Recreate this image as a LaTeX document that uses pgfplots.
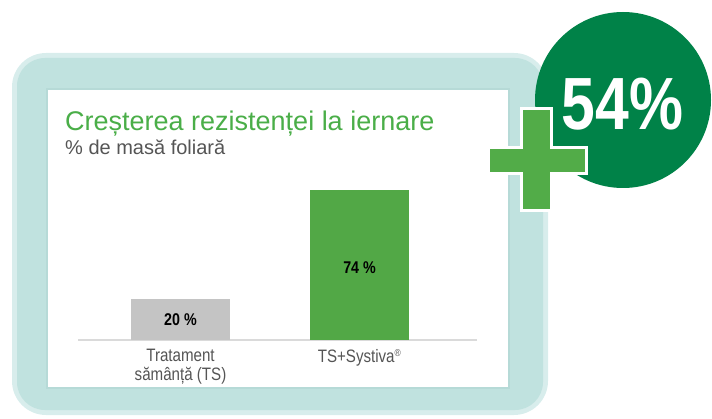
\documentclass[border=0pt]{standalone}
\usepackage{fontspec}
\setmainfont{Liberation Sans}
\newfontfamily\condfont[FakeStretch=0.84]{Liberation Sans}
\newfontfamily\bigfont[FakeStretch=0.82]{Liberation Sans}
\usepackage{pgfplots}
\pgfplotsset{compat=1.18}

\definecolor{framelight}{RGB}{216,237,236}
\definecolor{framemid}{RGB}{192,226,223}
\definecolor{framedark}{RGB}{182,218,215}
\definecolor{titlegreen}{RGB}{74,174,72}
\definecolor{subgray}{RGB}{85,85,85}
\definecolor{labelgray}{RGB}{85,85,85}
\definecolor{axisgray}{RGB}{218,218,218}
\definecolor{bargray}{RGB}{196,196,196}
\definecolor{bargreen}{RGB}{82,168,70}
\definecolor{circlegreen}{RGB}{0,130,72}
\definecolor{plusgreen}{RGB}{82,172,72}

\begin{document}
\begin{tikzpicture}[x=1pt,y=1pt]
\useasboundingbox (0,0) rectangle (712,418);
\clip (0,0) rectangle (712,418);

% tray frame
\fill[framelight, rounded corners=34pt] (12,3) rectangle (548,365);
\fill[framemid, rounded corners=28pt] (17,8) rectangle (543,360);
\fill[framedark] (46,29) rectangle (510,330);
\fill[white] (48,31) rectangle (508,328);

\begin{axis}[
  at={(78pt,78pt)}, anchor=south west,
  scale only axis, width=399pt, height=162.2pt,
  xmin=-0.5726, xmax=1.656, ymin=0, ymax=80,
  axis y line=none, axis x line*=bottom,
  axis line style={-, draw=axisgray, line width=1.5pt},
  ytick=\empty, xtick={0,1},
  xticklabels={{Tratament\\sămânță (TS)},{TS+Systiva\textsuperscript{\fontsize{10}{10}\selectfont ®}}},
  xtick style={draw=none}, major tick length=0pt,
  xticklabel style={align=center, anchor=north, inner sep=0pt, yshift=-9pt,
    font=\condfont\fontsize{18}{19}\selectfont, text=labelgray},
  ybar, bar width=99pt, bar shift=0pt, clip=false,
]
\addplot[fill=bargray, draw=none] coordinates {(0,20)};
\addplot[fill=bargreen, draw=none] coordinates {(1,74)};
\addplot[sharp plot, draw=none, mark=none, nodes near coords,
  point meta=explicit symbolic,
  every node near coord/.append style={anchor=center, text=black,
    font=\condfont\bfseries\fontsize{17}{18}\selectfont}]
  coordinates {(0,9.9) [20 \%] (1,35.5) [74 \%]};
\end{axis}

% titles
\node[anchor=base west, inner sep=0pt, text=titlegreen,
  font=\fontsize{27}{32}\selectfont] at (65,287.3) {Creșterea rezistenței la iernare};
\node[anchor=base west, inner sep=0pt, text=subgray,
  font=\fontsize{20}{24}\selectfont] at (65,263) {\% de masă foliară};

% badge
\fill[circlegreen] (623,318) circle (88);
\node[anchor=base, inner sep=0pt, text=white,
  font=\bigfont\bfseries\fontsize{74}{80}\selectfont] at (622.5,288) {54\%};
\filldraw[fill=plusgreen, draw=white, line width=3pt]
  (521,309) -- (551,309) -- (551,270) -- (586,270) -- (586,244) -- (551,244)
  -- (551,207) -- (521,207) -- (521,244) -- (488,244) -- (488,270) -- (521,270) -- cycle;
\end{tikzpicture}
\end{document}
